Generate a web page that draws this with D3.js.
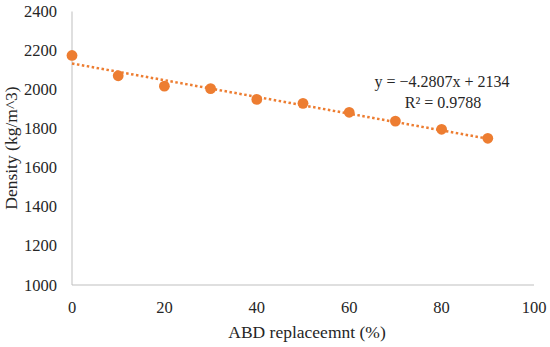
<!DOCTYPE html>
<html><head><meta charset="utf-8">
<script src="https://cdn.jsdelivr.net/npm/d3@7"></script>
<style>body{margin:0;background:#fff}</style>
</head><body><svg id="c" width="550" height="347"></svg>
<script>
const xValues = [0,10,20,30,40,50,60,70,80,90];
const density = [2175,2071,2018,2005,1950,1930,1884,1839,1797,1751];
const xTicks = [0,20,40,60,80,100];
const yTicks = [1000,1200,1400,1600,1800,2000,2200,2400];
const slope = -4.2807, intercept = 2134, r2 = 0.9788;
const xTitle = "ABD replaceemnt (%)";
const yTitle = "Density (kg/m^3)";

const FONT = "Liberation Serif";
const svg = d3.select("#c");
const x = d3.scaleLinear().domain([0,100]).range([72,534]);
const y = d3.scaleLinear().domain([1000,2400]).range([285,11.5]);
const color = "#ED7D31";
const txt = (sel) => sel.append("text").attr("font-family",FONT).attr("fill","#262626");

svg.append("line").attr("x1",x(0)).attr("x2",x(0)).attr("y1",y(1000)).attr("y2",y(2400)).attr("stroke","#bfbfbf");
svg.append("line").attr("x1",x(0)).attr("x2",x(100)).attr("y1",y(1000)).attr("y2",y(1000)).attr("stroke","#bfbfbf");

yTicks.forEach(d => txt(svg).attr("x",57).attr("y",y(d)+5.5).attr("text-anchor","end").attr("font-size",16.5).text(d));
xTicks.forEach(d => txt(svg).attr("x",x(d)).attr("y",313).attr("text-anchor","middle").attr("font-size",16.5).text(d));

txt(svg).attr("x",307).attr("y",338).attr("text-anchor","middle").attr("font-size",17.5).text(xTitle);
txt(svg).attr("transform","translate(17,148) rotate(-90)").attr("text-anchor","middle").attr("font-size",17.5).text(yTitle);

const tx = [0,90];
svg.append("path").attr("d",d3.line().x(d=>x(d)).y(d=>y(slope*d+intercept))(tx))
  .attr("stroke",color).attr("stroke-width",2.5).attr("stroke-dasharray","2.5,2.5").attr("fill","none");

svg.selectAll(".pt").data(xValues).join("circle").attr("cx",d=>x(d)).attr("cy",(d,i)=>y(density[i]))
  .attr("r",5.4).attr("fill",color);

txt(svg).attr("x",442).attr("y",87).attr("text-anchor","middle").attr("font-size",16).text("y = \u22124.2807x + 2134");
txt(svg).attr("x",443).attr("y",108).attr("text-anchor","middle").attr("font-size",16).text("R\u00b2 = " + r2);
</script></body></html>
